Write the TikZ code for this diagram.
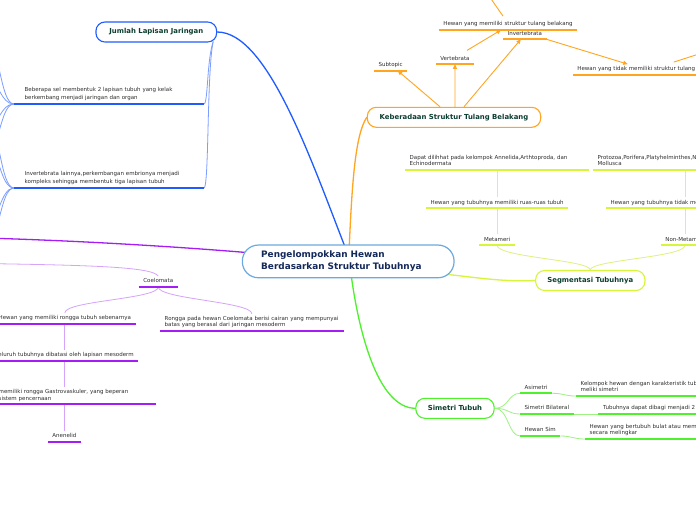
\documentclass[tikz,border=0pt]{standalone}
\usepackage{fontspec}
\setmainfont{DejaVu Sans}
\usetikzlibrary{arrows.meta,backgrounds}

\definecolor{mapBlue}{HTML}{1F5BFF}
\definecolor{mapBlueLight}{HTML}{7C9EFF}
\definecolor{mapOrange}{HTML}{FFA51F}
\definecolor{mapYellow}{HTML}{D6F53B}
\definecolor{mapYellowLight}{HTML}{DDF27A}
\definecolor{mapGreen}{HTML}{4FF02C}
\definecolor{mapGreenLight}{HTML}{9DF282}
\definecolor{mapPurple}{HTML}{A51DF5}
\definecolor{mapPurpleLight}{HTML}{D6A2FA}
\definecolor{mapRootLine}{HTML}{6AAAE0}
\definecolor{mapRootText}{HTML}{14285A}
\definecolor{mapTopicText}{HTML}{0C3E2F}
\definecolor{mapLeafText}{HTML}{2E2E2E}

\begin{document}
\begin{tikzpicture}[x=1pt, y=-1pt,
  root/.style={draw=mapRootLine, fill=white, line width=1.2pt, rounded corners=16pt,
    minimum width=211.7pt, minimum height=32.7pt, text width=174pt, align=left,
    inner sep=0pt, text=mapRootText, font=\mapRootFont},
  topic/.style={fill=white, line width=1.1pt, rounded corners=9pt, minimum height=20pt,
    inner sep=0pt, text=mapTopicText, font=\mapTopicFont},
  leaf/.style={anchor=south west, inner xsep=4.5pt, inner ysep=2.1pt, align=left,
    text=mapLeafText, font=\mapLeafFont, execute at end node=\strut},
  branch/.style={line width=1.3pt, line cap=round},
  twig/.style={line width=0.8pt},
  underline/.style={line width=1.8pt},
  pointer/.style={draw=mapOrange, line width=0.9pt, -{Triangle[length=4.5pt,width=4pt]}}]
% Mind map in page pixels, y grows downwards
\providecommand{\mapRootFont}{\bfseries\fontsize{8.9}{11.7}\selectfont}
\providecommand{\mapTopicFont}{\bfseries\fontsize{6.9}{8}\selectfont}
\providecommand{\mapLeafFont}{\fontsize{5.5}{6.3}\selectfont}
\providecommand{\mapLeafWideFont}{\fontsize{5.5}{8}\selectfont}
\useasboundingbox (0,0) rectangle (696,520);
\clip (0,0) rectangle (696,520);

% Central topic
\node[root] (root) at (348.2,261.4) {Pengelompokkan Hewan\\Berdasarkan Struktur Tubuhnya};

% Main topics
\node[topic, draw=mapBlue, minimum width=120.7pt] (jumlah) at (156.3,32) {Jumlah Lapisan Jaringan};
\node[topic, draw=mapOrange, minimum width=173.4pt] (keberadaan) at (454,117.3) {Keberadaan Struktur Tulang Belakang};
\node[topic, draw=mapYellow, minimum width=109.3pt] (segmentasi) at (590.3,280.5) {Segmentasi Tubuhnya};
\node[topic, draw=mapGreen, minimum width=78.3pt] (simetri) at (455,408.3) {Simetri Tubuh};

% Jumlah Lapisan Jaringan
\coordinate (duaFan) at (14,104);
\coordinate (tigaFan) at (14,188);
\node[leaf, font=\mapLeafWideFont, text width=175pt] (duaLapis) at (20,104) {Beberapa sel membentuk 2 lapisan tubuh yang kelak\\berkembang menjadi jaringan dan organ};
\node[leaf, font=\mapLeafWideFont, text width=175pt] (tigaLapis) at (20,188) {Invertebrata lainnya,perkembangan embrionya menjadi\\kompleks sehingga membentuk tiga lapisan tubuh};
\coordinate (duaKeA) at (-14,42);
\coordinate (duaKeB) at (-14,80);
\coordinate (duaKeC) at (-14,126);
\coordinate (duaKeD) at (-14,152);
\coordinate (tigaKeA) at (-14,122);
\coordinate (tigaKeB) at (-14,148);
\coordinate (tigaKeC) at (-14,222);
\coordinate (tigaKeD) at (-14,242);

% Keberadaan Struktur Tulang Belakang
\node[leaf] (subtopic) at (374,70.7) {Subtopic};
\node[leaf] (vertebrata) at (435.7,64.3) {Vertebrata};
\node[leaf] (invertebrata) at (503,39.3) {Invertebrata};
\node[leaf] (punyaTulang) at (438.7,30) {Hewan yang memiliki struktur tulang belakang};
\node[leaf] (tanpaTulang) at (572.7,75) {Hewan yang tidak memiliki struktur tulang belakang};
\coordinate (atasTulang) at (480,-17);
\coordinate (kananTulang) at (730,44);

% Segmentasi Tubuhnya
\node[leaf] (metameri) at (479.3,245.3) {Metameri};
\node[leaf] (nonMetameri) at (660.7,245.3) {Non-Metameri};
\node[leaf] (ruas) at (426,208.3) {Hewan yang tubuhnya memiliki ruas-ruas tubuh};
\node[leaf] (tanpaRuas) at (606,208.3) {Hewan yang tubuhnya tidak memiliki ruas-ruas tubuh};
\node[leaf, text width=175pt] (annelida) at (405,170) {Dapat dilihhat pada kelompok Annelida,Arthtoproda, dan\\Echinodermata};
\node[leaf, text width=173pt] (protozoa) at (593,170) {Protozoa,Porifera,Platyhelminthes,Nemathelminthes,\\Mollusca};

% Simetri Tubuh
\node[leaf] (asimetri) at (520,393.3) {Asimetri};
\node[leaf] (bilateral) at (520,414) {Simetri Bilateral};
\node[leaf] (hewanSim) at (520,436) {Hewan Sim};
\node[leaf] (tanpaSimetri) at (576,396) {Kelompok hewan dengan karakteristik tubuh yang tidak\\meliki simetri};
\node[leaf] (duaBagian) at (598.3,414) {Tubuhnya dapat dibagi menjadi 2 bagian yang sama};
\node[leaf] (bulat) at (585,439) {Hewan yang bertubuh bulat atau memiliki bagian tubuh\\secara melingkar};

% Coelomata (topic lies left of the page)
\coordinate (kiriTopik) at (-60,237);
\coordinate (coelInduk) at (-50,263);
\node[leaf] (coelomata) at (138.7,287) {Coelomata};
\node[leaf] (rongga) at (-6,323.7) {Hewan yang memiliki rongga tubuh sebenarnya};
\node[leaf, text width=174.3pt] (cairan) at (160,330.7) {Rongga pada hewan Coelomata berisi cairan yang mempunyai\\batas yang berasal dari jaringan mesoderm};
\node[leaf] (mesoderm) at (-9.7,360.7) {Seluruh tubuhnya dibatasi oleh lapisan mesoderm};
\node[leaf, text width=153pt] (gastro) at (-6,404.3) {memiliki rongga Gastrovaskuler, yang beperan\\sistem pencernaan};
\node[leaf] (anenelid) at (47.7,441.7) {Anenelid};

\begin{scope}[on background layer]
  \fill[white] (0,0) rectangle (696,520);
  \clip (0,0) rectangle (696,520);
  % Main branches
  \draw[branch, mapBlue] ([shift={(-3,-14)}]root.center) .. controls (310,157) and (267,32) .. (jumlah.east);
  \draw[branch, mapOrange] ([shift={(1,-14)}]root.center) .. controls (352,185) and (355,135) .. (keberadaan.west);
  \draw[branch, mapYellow] ([shift={(99,13)}]root.center) .. controls (480,278) and (505,282) .. (segmentasi.west);
  \draw[branch, mapGreen] ([shift={(3,14)}]root.center) .. controls (360,340) and (380,408) .. (simetri.west);
  \draw[branch, mapPurple] ([shift={(-103,-9)}]root.center) .. controls (180,247) and (60,239) .. (kiriTopik);
  % Blue twigs
  \begin{scope}[twig, draw=mapBlueLight]
    \draw ([shift={(-4,-1)}]jumlah.south east) .. controls (207,60) and (208,100) .. (duaLapis.south east);
    \draw ([shift={(-4,-1)}]jumlah.south east) .. controls (207,70) and (209,180) .. (tigaLapis.south east);
    \draw (duaFan) .. controls +(-14,0) and +(14,0) .. (duaKeA);
    \draw (duaFan) .. controls +(-14,0) and +(14,0) .. (duaKeB);
    \draw (duaFan) .. controls +(-14,0) and +(14,0) .. (duaKeC);
    \draw (duaFan) .. controls +(-14,0) and +(14,0) .. (duaKeD);
    \draw (tigaFan) .. controls +(-14,0) and +(14,0) .. (tigaKeA);
    \draw (tigaFan) .. controls +(-14,0) and +(14,0) .. (tigaKeB);
    \draw (tigaFan) .. controls +(-14,0) and +(14,0) .. (tigaKeC);
    \draw (tigaFan) .. controls +(-14,0) and +(14,0) .. (tigaKeD);
  \end{scope}
  % Orange pointers
  \draw[pointer] ([shift={(-14,0)}]keberadaan.north) -- ([shift={(7,0)}]subtopic.south);
  \draw[pointer] ([shift={(1,0)}]keberadaan.north) -- (vertebrata.south);
  \draw[pointer] ([shift={(10,0)}]keberadaan.north) -- ([shift={(-4,0)}]invertebrata.south);
  \draw[pointer] ([shift={(12,-3)}]vertebrata.north) -- ([shift={(-7,0)}]punyaTulang.south);
  \draw[pointer] (invertebrata.south east) -- ([shift={(55,0)}]tanpaTulang.north west);
  \draw[pointer] ([shift={(-5,-3)}]punyaTulang.north) -- (atasTulang);
  \draw[pointer] ([shift={(101,-2)}]tanpaTulang.north west) -- (kananTulang);
  % Yellow twigs
  \begin{scope}[twig, draw=mapYellowLight]
    \draw (segmentasi.north) .. controls +(0,-10) and +(0,12) .. (metameri.south);
    \draw (segmentasi.north) .. controls +(0,-10) and +(0,12) .. (nonMetameri.south);
    \draw (metameri.north) -- (ruas.south -| metameri.north);
    \draw (ruas.north -| metameri.north) -- (annelida.south -| metameri.north);
    \draw (nonMetameri.north) -- (tanpaRuas.south -| nonMetameri.north);
    \draw (tanpaRuas.north -| nonMetameri.north) -- (protozoa.south -| nonMetameri.north);
  \end{scope}
  % Green twigs
  \begin{scope}[twig, draw=mapGreenLight]
    \draw (simetri.east) .. controls +(14,0) and +(-12,0) .. (asimetri.south west);
    \draw (simetri.east) .. controls +(14,0) and +(-12,0) .. (bilateral.south west);
    \draw (simetri.east) .. controls +(14,0) and +(-12,0) .. (hewanSim.south west);
    \draw (asimetri.south east) .. controls +(12,0) and +(-12,0) .. (tanpaSimetri.south west);
    \draw (bilateral.south east) -- (duaBagian.south west);
    \draw (hewanSim.south east) .. controls +(12,0) and +(-12,0) .. (bulat.south west);
  \end{scope}
  % Purple twigs
  \begin{scope}[twig, draw=mapPurpleLight]
    \draw (coelInduk) .. controls (80,265) and (152,266) .. (coelomata.north);
    \draw (coelomata.south) .. controls +(0,12) and +(0,-12) .. (rongga.north);
    \draw (coelomata.south) .. controls +(0,12) and +(0,-12) .. (cairan.north);
    \draw (rongga.south -| anenelid.north) -- (mesoderm.north -| anenelid.north);
    \draw (mesoderm.south -| anenelid.north) -- (gastro.north -| anenelid.north);
    \draw (gastro.south -| anenelid.north) -- (anenelid.north);
  \end{scope}
\end{scope}

% Underlines
\begin{scope}[underline, draw=mapBlue]
  \draw (duaFan) -- (duaLapis.south east);
  \draw (tigaFan) -- (tigaLapis.south east);
\end{scope}
\begin{scope}[underline, draw=mapOrange]
  \draw (subtopic.south west) -- (subtopic.south east);
  \draw (vertebrata.south west) -- (vertebrata.south east);
  \draw (invertebrata.south west) -- (invertebrata.south east);
  \draw (punyaTulang.south west) -- (punyaTulang.south east);
  \draw (tanpaTulang.south west) -- (tanpaTulang.south east);
\end{scope}
\begin{scope}[underline, draw=mapYellow]
  \draw (metameri.south west) -- (metameri.south east);
  \draw (nonMetameri.south west) -- (nonMetameri.south east);
  \draw (ruas.south west) -- (ruas.south east);
  \draw (tanpaRuas.south west) -- (tanpaRuas.south east);
  \draw (annelida.south west) -- (annelida.south east);
  \draw (protozoa.south west) -- (protozoa.south east);
\end{scope}
\begin{scope}[underline, draw=mapGreen]
  \draw (asimetri.south west) -- (asimetri.south east);
  \draw (bilateral.south west) -- (bilateral.south east);
  \draw (hewanSim.south west) -- (hewanSim.south east);
  \draw (tanpaSimetri.south west) -- (tanpaSimetri.south east);
  \draw (duaBagian.south west) -- (duaBagian.south east);
  \draw (bulat.south west) -- (bulat.south east);
\end{scope}
\begin{scope}[underline, draw=mapPurple]
  \draw (coelomata.south west) -- (coelomata.south east);
  \draw (rongga.south west) -- (rongga.south east);
  \draw (cairan.south west) -- (cairan.south east);
  \draw (mesoderm.south west) -- (mesoderm.south east);
  \draw (gastro.south west) -- (gastro.south east);
  \draw (anenelid.south west) -- (anenelid.south east);
\end{scope}
\end{tikzpicture}
\end{document}
